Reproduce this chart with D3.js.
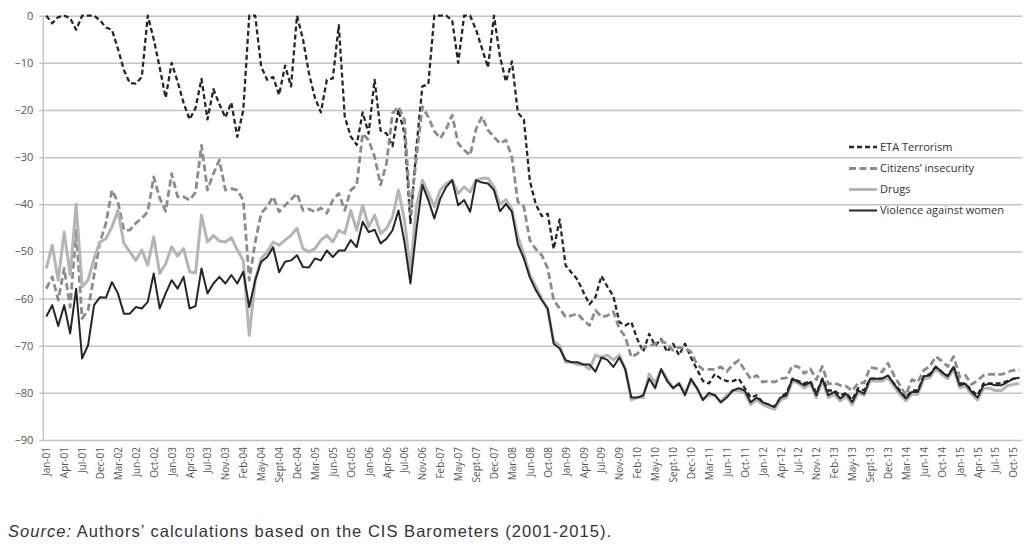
<!DOCTYPE html>
<html><head><meta charset="utf-8">
<script src="https://cdn.jsdelivr.net/npm/d3@7"></script>
<style>body{margin:0;background:#fff;} svg{display:block;}</style>
</head><body>
<svg id="c" width="1024" height="552"></svg>
<script>
const tickLabels = ["Jan-01","Apr-01","Jul-01","Dec-01","Mar-02","Jun-02","Oct-02","Jan-03","Apr-03","Jul-03","Nov-03","Feb-04","May-04","Sept-04","Dec-04","Mar-05","Jun-05","Oct-05","Jan-06","Apr-06","Jul-06","Nov-06","Feb-07","May-07","Sept-07","Dec-07","Mar-08","Jun-08","Oct-08","Jan-09","Apr-09","Jul-09","Nov-09","Feb-10","May-10","Sept-10","Dec-10","Mar-11","Jun-11","Oct-11","Jan-12","Apr-12","Jul-12","Nov-12","Feb-13","May-13","Sept-13","Dec-13","Mar-14","Jun-14","Oct-14","Jan-15","Apr-15","Jul-15","Oct-15"];
const yTickValues = [0,-10,-20,-30,-40,-50,-60,-70,-80,-90];
const seriesNames = ["ETA Terrorism","Citizens\u2019 insecurity","Drugs","Violence against women"];

const eta = [0,-1.6,-0.3,0,-0.5,-3,0,0,0,-1,
-2.5,-3,-7,-11.5,-14.3,-14.4,-13,0,-5,-11,
-17.4,-10,-14,-18.5,-22,-19.6,-13.4,-22,-15.6,-18.8,
-21.6,-18.4,-25.7,-20,0,0,-10.8,-13.6,-13,-16.8,
-10.6,-15,0,-5,-12.2,-17.4,-20.5,-13.6,-13.3,-2,
-21.4,-25.6,-27.4,-20.5,-25,-13.6,-24.4,-25,-27.7,-19.9,
-25,-44,-28,-15,-14.5,0,0,0,-1,-10,
0,0,-3,-7,-11,0,-8.7,-14,-9.7,-20.6,
-22,-35,-40,-42.5,-42,-49.5,-43.2,-53,-54.5,-56,
-58.7,-61.2,-59.7,-55.2,-57.5,-59.5,-65,-65.7,-65,-68.6,
-71.3,-67.5,-70,-68.6,-71.3,-69.6,-72,-69.6,-72.5,-75,
-77.5,-78,-76,-77,-77.5,-77.5,-77,-79,-81,-80.5,
-82,-82.5,-83,-81,-80,-77,-77.5,-78,-77.5,-80,
-77,-79.5,-79.5,-80.5,-80,-81.5,-79,-79.5,-77,-77,
-77,-76.5,-78,-79.5,-81,-79.5,-79.5,-76.5,-76,-74.5,
-75.5,-76.5,-74.5,-78,-78,-79.5,-80.5,-78,-78,-78,
-78,-77.5,-77,-76.8];

const citizens = [-57.9,-55.4,-60.3,-53.6,-61.8,-45.5,-64.2,-62.5,-55,-48,
-44,-37,-39.5,-45.5,-45.5,-44,-43,-41.6,-34.2,-38.7,
-41.5,-33.5,-38.4,-38.4,-39.1,-37.5,-27.5,-37,-33.5,-30.6,
-37,-36.7,-37,-39.1,-56.1,-48,-41.9,-40.5,-38.4,-41.6,
-40.2,-39,-37.7,-41.3,-41,-41.6,-40.8,-41.9,-39.1,-37.7,
-41.3,-37,-36,-25,-26.4,-29.9,-35.9,-31.3,-20.7,-19.3,
-22.1,-42,-30,-19.3,-21.5,-24.5,-26,-24,-21.1,-27.1,
-28.5,-29.6,-24,-21.4,-24.3,-25.7,-27.1,-26.4,-30,-39.5,
-40.5,-47.6,-49.5,-50.8,-53.6,-60.3,-62.1,-63.9,-63.6,-63.2,
-64.6,-65.7,-62.5,-63.9,-63.6,-62.8,-66.4,-68.1,-72.4,-71.7,
-70.3,-70,-69.6,-68.9,-69.6,-71,-70.3,-70.6,-71.3,-74,
-75,-75,-75,-74.5,-75.5,-74,-73.1,-75.2,-77,-76.3,
-77.7,-77.5,-77.7,-77,-76.8,-74.2,-74.5,-75.9,-74.9,-77.2,
-74.4,-78.1,-77.9,-78.4,-78.6,-79.6,-77.9,-77.9,-74.6,-74.8,
-75.6,-73.7,-76.3,-78.4,-80.5,-77.2,-77.7,-75.2,-74.4,-72.3,
-73.2,-74.4,-72.3,-76.6,-76.3,-78.2,-77.4,-76.3,-76.1,-76.1,
-76.1,-75.6,-75.2,-75.2];

const drugs = [-53.6,-48.7,-56.1,-45.9,-55,-40,-57.5,-56.1,-51.5,-48,
-47.3,-44.8,-41.3,-48.3,-50.1,-51.9,-49.7,-52.9,-46.9,-54.7,
-52.6,-49.0,-51,-49.4,-54.3,-54.6,-42.3,-48,-46.6,-47.8,
-48,-47.1,-49.7,-51.9,-67.8,-56.1,-51.5,-50.1,-48,-48.7,
-47.6,-46.6,-45.1,-49.4,-50.1,-49.4,-47.6,-46.6,-48,-45.5,
-46.2,-41.3,-45.5,-40.2,-44.8,-42.3,-46.2,-45.1,-42.7,-37,
-43.4,-54,-40.5,-34.9,-37.7,-40.5,-37,-35.6,-34.9,-37.7,
-36.3,-37.4,-34.9,-34.5,-34.5,-36.3,-40,-39,-41,-47,
-50.5,-55,-57.5,-60,-62.5,-69,-70,-73.5,-73.5,-74,
-74,-75,-72,-72.5,-72,-73,-72,-75,-81.5,-81,
-81,-76,-78,-75,-77,-79,-78,-80,-77.5,-79,
-81.5,-80.5,-80.5,-82,-80.5,-79.5,-79.5,-80,-82.5,-81.5,
-82.5,-83,-83.5,-81.5,-81,-77.5,-78,-79,-78,-81,
-77.5,-81,-80.3,-81.7,-80.7,-82.5,-80,-80.5,-77.5,-77.5,
-77.5,-76.8,-78.6,-80.3,-81.7,-80.3,-80.3,-77,-76.8,-74.9,
-76.1,-77,-75,-78.9,-78.6,-80.3,-81.5,-79,-79,-79.5,
-79.5,-78.5,-78.2,-78];

const violence = [-63.8,-61.4,-65.8,-61.4,-67.4,-57.9,-72.7,-69.9,-61.4,-59.7,
-59.8,-56.5,-58.9,-63.2,-63.2,-61.8,-62.1,-60.7,-54.7,-62.1,
-58.9,-56.1,-57.9,-55.4,-62.1,-61.6,-53.6,-58.9,-56.8,-55.4,
-56.8,-55.0,-56.8,-54.3,-61.8,-56.1,-52.2,-51.2,-49.1,-54.4,
-52.2,-51.9,-50.8,-53.3,-53.4,-51.5,-51.9,-49.8,-51.2,-49.8,
-49.8,-47.6,-49.1,-43.7,-45.9,-45.4,-48.3,-47.3,-45.5,-41.3,
-48.0,-56.8,-45.5,-35.9,-39.1,-43.0,-38.8,-36.3,-34.9,-40.2,
-39.1,-41.6,-34.9,-35.4,-35.6,-37.0,-41.5,-39.9,-41.6,-48.5,
-51.5,-55.5,-58.2,-60.3,-62.1,-69.6,-70.6,-73.1,-73.5,-73.5,
-74,-74,-75.5,-72.5,-73,-74.5,-72.5,-75,-81,-81,
-80.5,-77,-79,-75,-77.5,-79,-78,-80.5,-77,-79,
-81.5,-80,-80.5,-82,-81,-79.5,-79,-79.5,-82,-81,
-82,-82.5,-83,-81,-80.5,-77,-77.7,-78.4,-77.7,-80.5,
-77,-80.5,-79.8,-81.2,-80.2,-82,-79.5,-80.2,-77,-77,
-77,-76.3,-78.1,-79.8,-81.2,-79.8,-79.8,-76.5,-76.3,-74.4,
-75.6,-76.5,-74.5,-78.4,-78.1,-79.8,-81,-78.4,-78.1,-78.4,
-78.4,-77.7,-77,-76.8];

const N = violence.length;
const L = 43.3, R = 1022.3, T = 15.7, B = 440;
const svg = d3.select("#c");
const x = d3.scalePoint().domain(d3.range(N)).range([L, R]).padding(0.5);
const y = d3.scaleLinear().domain([-90, 0]).range([B, T]);

// y axis with gridlines
const gy = svg.append("g").attr("transform", `translate(${L},0)`)
  .call(d3.axisLeft(y).tickValues(yTickValues).tickSize(-(R - L)).tickSizeOuter(0).tickPadding(10).tickFormat(d3.format("d")));
gy.select(".domain").remove();
gy.selectAll(".tick line").attr("x1", -4).attr("stroke", "#c4c4c4").attr("stroke-width", 1.5);
gy.selectAll(".tick text").attr("fill", "#555").attr("font-family", "'Open Sans', sans-serif").attr("font-size", 11);
svg.append("line").attr("x1", L).attr("x2", L).attr("y1", T).attr("y2", B).attr("stroke", "#c4c4c4").attr("stroke-width", 1.5);

// x axis
const gx = svg.append("g").attr("transform", `translate(0,${B})`)
  .call(d3.axisBottom(x).tickValues(d3.range(0, N, 3)).tickFormat(i => tickLabels[i / 3]).tickSize(0));
gx.select(".domain").remove();
gx.selectAll(".tick text")
  .attr("transform", "rotate(-90)")
  .attr("x", -7).attr("y", 0).attr("dy", "0.35em")
  .attr("text-anchor", "end")
  .attr("fill", "#555").attr("font-family", "'Open Sans', sans-serif").attr("font-size", 10);

const styles = [
  {data: eta, color: "#262626", width: 2.3, dash: "5,3"},
  {data: citizens, color: "#8c8c8c", width: 2.8, dash: "7,3.5"},
  {data: drugs, color: "#b5b5b5", width: 3, dash: null},
  {data: violence, color: "#262626", width: 2, dash: null}
];
const line = d3.line().x((d, i) => x(i)).y(d => y(d)).curve(d3.curveLinear);
const gl = svg.append("g");
styles.forEach(s => {
  gl.append("path").datum(s.data).attr("d", line)
    .attr("fill", "none").attr("stroke", s.color).attr("stroke-width", s.width)
    .attr("stroke-dasharray", s.dash).attr("stroke-linejoin", "round");
});

// legend
const lg = svg.append("g");
const rowsY = [147, 168.5, 189.5, 210.5];
styles.forEach((s, k) => {
  lg.append("line").attr("x1", 849).attr("x2", 877).attr("y1", rowsY[k]).attr("y2", rowsY[k])
    .attr("stroke", s.color).attr("stroke-width", s.width).attr("stroke-dasharray", s.dash);
  lg.append("text").attr("x", 880).attr("y", rowsY[k]).attr("dy", "0.35em")
    .attr("font-family", "'Open Sans', sans-serif").attr("font-size", 11).attr("fill", "#333")
    .text(seriesNames[k]);
});

// caption
const cap = svg.append("text").attr("x", 8).attr("y", 537)
  .attr("font-family", "'Liberation Sans', Arial, sans-serif").attr("font-size", 16.5).attr("fill", "#333")
  .attr("textLength", 603).attr("lengthAdjust", "spacing");
cap.append("tspan").attr("font-style", "italic").text("Source:");
cap.append("tspan").text(" Authors\u2019 calculations based on the CIS Barometers (2001-2015).");
</script>
</body></html>
